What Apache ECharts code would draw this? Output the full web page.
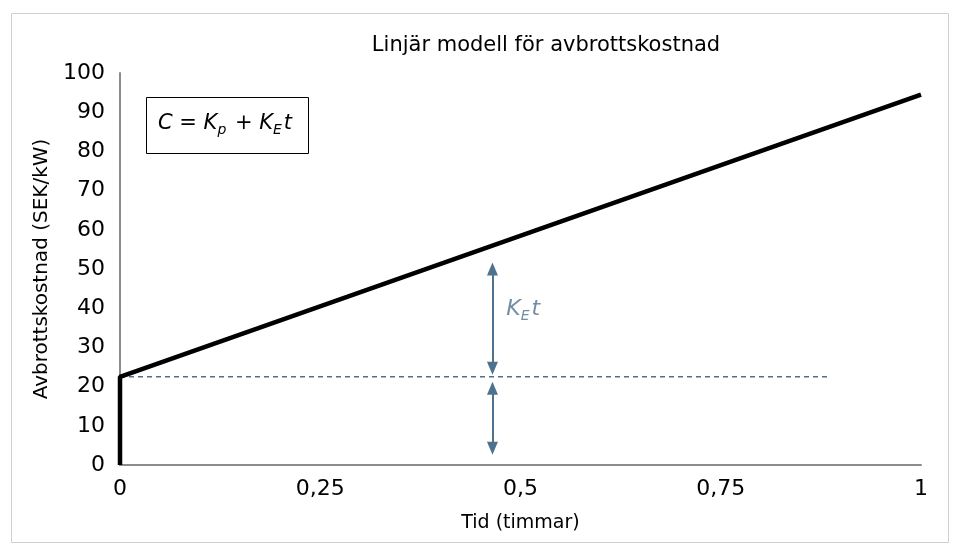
<!DOCTYPE html>
<html>
<head>
<meta charset="utf-8">
<script src="https://cdn.jsdelivr.net/npm/echarts@6/dist/echarts.min.js"></script>
<style>
  html, body { margin: 0; padding: 0; background: #fff; }
  #chart { width: 956px; height: 551px; }
</style>
</head>
<body>
<div id="chart"></div>
<script>
// kostnadsmodell C = Kp + KE*t
const timeValues = [0, 0, 1]
const costValues = [0, 22.5, 94.5]
const kpLevel = 22.5
const dashEnd = 0.884
const xTicks = [0, 0.25, 0.5, 0.75, 1]
// dubbelpilar
const arrowX = 0.465
const arrowKeT = [50, 24.7]
const arrowKp = [19.6, 4.3]
const keLabelPos = [0.476, 39]

const blue = '#4f7190'
const font = 'DejaVu Sans'

const chart = echarts.init(document.getElementById('chart'))

chart.setOption({
  animation: false,
  backgroundColor: '#fff',
  textStyle: { fontFamily: font },
  title: {
    text: 'Linjär modell för avbrottskostnad',
    left: 541,
    textAlign: 'center',
    top: 30,
    textStyle: { fontSize: 21, fontWeight: 'normal', color: '#000', fontFamily: font }
  },
  grid: { left: 120, right: 35, top: 73, bottom: 86 },
  xAxis: {
    type: 'value',
    min: 0,
    max: 1,
    interval: 0.25,
    name: 'Tid (timmar)',
    nameLocation: 'middle',
    nameGap: 49,
    nameTextStyle: { fontSize: 19, color: '#000' },
    axisLine: { lineStyle: { color: '#8c8c8c', width: 2 } },
    axisTick: { show: false },
    splitLine: { show: false },
    axisLabel: {
      fontSize: 22,
      color: '#000',
      margin: 13,
      formatter: (v) => (xTicks.includes(v) ? String(v).replace('.', ',') : '')
    }
  },
  yAxis: {
    type: 'value',
    min: 0,
    max: 100,
    interval: 10,
    name: 'Avbrottskostnad (SEK/kW)',
    nameLocation: 'middle',
    nameGap: 63,
    nameTextStyle: { fontSize: 20, color: '#000' },
    axisLine: { show: true, lineStyle: { color: '#8c8c8c', width: 2 } },
    axisTick: { show: false },
    splitLine: { show: false },
    axisLabel: { fontSize: 22, color: '#000', margin: 15 }
  },
  graphic: [
    {
      type: 'rect',
      left: 9,
      top: 11,
      shape: { width: 937, height: 529 },
      style: { fill: 'none', stroke: '#d0d0d0', lineWidth: 1 },
      silent: true
    },
    {
      type: 'rect',
      left: 146,
      top: 97,
      shape: { width: 162, height: 56 },
      style: { fill: '#fff', stroke: '#000', lineWidth: 1 },
      z: 10
    },
    {
      type: 'text',
      left: 158,
      top: 113,
      z: 11,
      style: {
        text: '{i|C = K}{s|p}{i| + K}{s|E}{i|t}',
        rich: {
          i: { fontSize: 21, fontStyle: 'italic', fill: '#000', fontFamily: font, verticalAlign: 'top', lineHeight: 26 },
          s: { fontSize: 14, fontStyle: 'italic', fill: '#000', fontFamily: font, verticalAlign: 'top', lineHeight: 26, padding: [10, 2, 0, 0] }
        }
      }
    }
  ],
  series: [
    {
      type: 'line',
      data: timeValues.map((t, i) => [t, costValues[i]]),
      symbol: 'none',
      lineStyle: { color: '#000', width: 4.5 },
      z: 5,
      markLine: {
        silent: true,
        symbol: ['triangle', 'triangle'],
        symbolSize: [11, 13],
        label: { show: false },
        lineStyle: { color: blue, width: 2, type: 'solid' },
        data: [
          [{ coord: [arrowX, arrowKeT[0]] }, { coord: [arrowX, arrowKeT[1]] }],
          [{ coord: [arrowX, arrowKp[0]] }, { coord: [arrowX, arrowKp[1]] }]
        ]
      }
    },
    {
      type: 'line',
      data: [[0, kpLevel], [dashEnd, kpLevel]],
      symbol: 'none',
      lineStyle: { color: blue, width: 1.5, type: [5, 4] },
      z: 3
    },
    {
      type: 'scatter',
      data: [keLabelPos],
      symbolSize: 0,
      label: {
        show: true,
        position: 'right',
        formatter: '{i|K}{s|E}{i|t}',
        rich: {
          i: { fontSize: 22, fontStyle: 'italic', color: blue, fontFamily: font, verticalAlign: 'top', lineHeight: 28 },
          s: { fontSize: 14, fontStyle: 'italic', color: blue, fontFamily: font, verticalAlign: 'top', lineHeight: 28, padding: [11, 2, 0, 0] }
        }
      }
    }
  ]
})
</script>
</body>
</html>
